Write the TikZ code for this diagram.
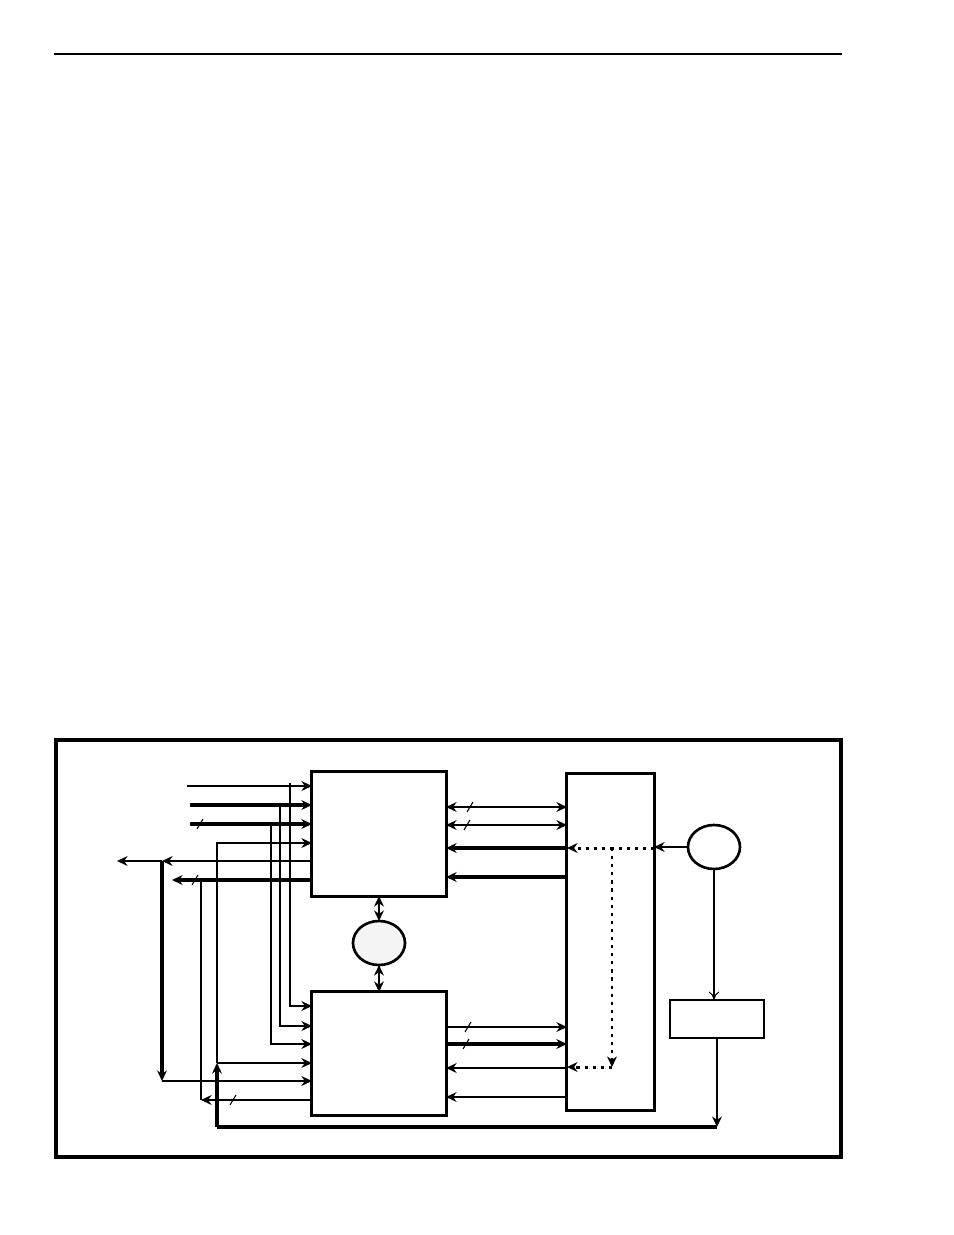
\documentclass[tikz,border=0pt]{standalone}
\usetikzlibrary{arrows.meta}
\usetikzlibrary{shapes.geometric}

\tikzset{
  blk/.style={draw,line width=0.85pt,inner sep=0pt,outer sep=0pt},
  oval/.style={draw,ellipse,line width=0.75pt,inner sep=0pt,outer sep=0pt,minimum width=0.52cm,minimum height=0.44cm},
  tip/.style={-{Stealth[length=3pt,width=2.8pt]}},
  sig/.style={line width=0.6pt,tip},
  bus/.style={line width=0.95pt,tip},
  bsig/.style={line width=0.6pt,{Stealth[length=3pt,width=2.8pt]}-{Stealth[length=3pt,width=2.8pt]}},
  ctl/.style={line width=0.85pt,dash pattern=on 0.9pt off 1.4pt,tip},
  slashmark/.style={line width=0.3pt},
}

\begin{document}
\begin{tikzpicture}[x=0.01cm,y=-0.01cm]
\useasboundingbox (0,0) rectangle (954,1235);
\draw[line width=0.6pt] (54,54) -- (842,54);
\draw[line width=1.3pt] (56,740) rectangle (841,1157);

\node[blk,minimum width=1.34cm,minimum height=1.24cm] (A) at (379,834) {};
\node[blk,minimum width=1.34cm,minimum height=1.23cm] (B) at (379,1053.5) {};
\node[oval,fill=gray!9] (C) at (379,943) {};
\node[blk,minimum width=0.87cm,minimum height=3.36cm] (D) at (610.5,942) {};
\node[oval] (E) at (714,847) {};
\node[blk,line width=0.65pt,minimum width=0.94cm,minimum height=0.38cm] (F) at (717,1019) {};

\coordinate (in1) at (187,786);
\coordinate (in2) at (190,805);
\coordinate (in3) at (190,824);
\coordinate (out1) at (117,861);
\coordinate (out2) at (172,880);
\coordinate (fb) at (717,1127);

\draw[sig] (in1) -- (A.west |- in1);
\draw[sig] (290,783) |- (B.west |- 0,1006);
\draw[bus] (in2) -- (A.west |- in2);
\draw[sig] (280,805) |- (B.west |- 0,1026);
\draw[bus] (in3) -- (A.west |- in3);
\draw[sig] (271,824) |- (B.west |- 0,1044);

\draw[sig] (A.west |- 0,861) -- (162,861);
\draw[sig] (162,861) -- (out1);
\draw[bus] (162,861) -- (162,1081);
\draw[sig] (162,1081) -- (B.west |- 0,1081);
\draw[bus] (A.west |- 0,880) -- (out2);
\draw[sig] (B.west |- 0,1100) -- (201,1100);
\draw[line width=0.6pt] (201,1100) -- (201,880);

\draw[sig] (F.south) -- (fb);
\draw[line width=0.95pt] (fb) -- (217,1127);
\draw[bus] (217,1127) -- (217,1063);
\draw[sig] (217,1063) -- (B.west |- 0,1063);
\draw[sig] (217,1063) |- (A.west |- 0,843);

\draw[bsig] (A.east |- 0,807) -- (D.west |- 0,807);
\draw[bsig] (A.east |- 0,825) -- (D.west |- 0,825);
\draw[bus] (D.west |- 0,848) -- (A.east |- 0,848);
\draw[bus] (D.west |- 0,877) -- (A.east |- 0,877);
\draw[sig] (B.east |- 0,1027) -- (D.west |- 0,1027);
\draw[bus] (B.east |- 0,1044) -- (D.west |- 0,1044);
\draw[sig] (D.west |- 0,1068) -- (B.east |- 0,1068);
\draw[sig] (D.west |- 0,1097) -- (B.east |- 0,1097);

\draw[bsig] (A.south) -- (C.north);
\draw[bsig] (C.south) -- (B.north);

\draw[sig] (E.west) -- (D.east |- E.west);
\draw[ctl] (D.east |- 0,848) -- (D.west |- 0,848);
\draw[ctl] (612,848) -- (612,1067);
\draw[ctl] (612,1067) -- (D.west |- 0,1067);
\draw[line width=0.3pt,-{To[length=2.4pt,width=3pt]}] (E.south) -- (E.south |- F.north);

\foreach \x/\y in {470/807,467/825,200/824,195/880,233/1100,468/1027,466/1044}
  \draw[slashmark] (\x,\y) ++(-3,5) -- ++(6,-10);
\end{tikzpicture}
\end{document}
